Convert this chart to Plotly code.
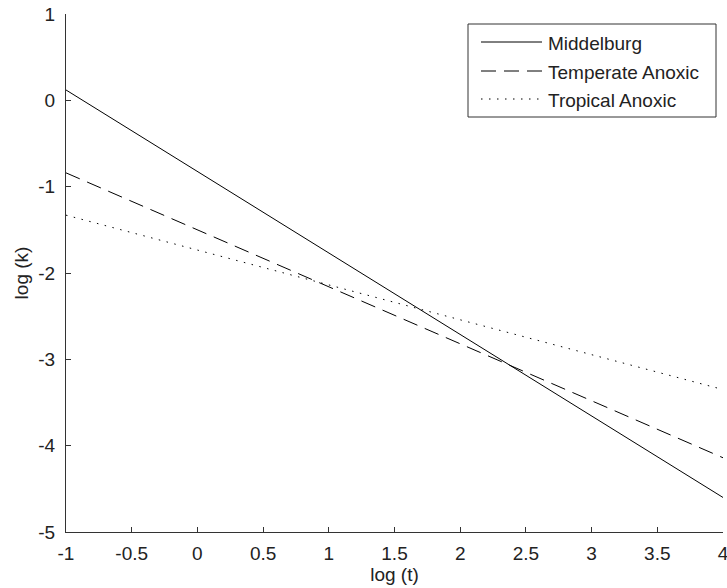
import plotly.graph_objects as go

# Data (line endpoints)
log_t = [-1, 4]
middelburg = [0.12, -4.60]
temperate_anoxic = [-0.84, -4.14]
tropical_anoxic = [-1.33, -3.35]

series_names = ["Middelburg", "Temperate Anoxic", "Tropical Anoxic"]
series_values = [middelburg, temperate_anoxic, tropical_anoxic]

x_ticks = [-1, -0.5, 0, 0.5, 1, 1.5, 2, 2.5, 3, 3.5, 4]
x_tick_labels = ["-1", "-0.5", "0", "0.5", "1", "1.5", "2", "2.5", "3", "3.5", "4"]
y_ticks = [-5, -4, -3, -2, -1, 0, 1]
y_tick_labels = ["-5", "-4", "-3", "-2", "-1", "0", "1"]

# Styles
dashes = ["solid", "15px,8px", "1.5px,6.5px"]
W, H = 727, 588
ML, MR, MT, MB = 66, 4, 14, 56
PW, PH = W - ML - MR, H - MT - MB
FONT = "Liberation Sans, Arial, sans-serif"
FS = 19
INK = "#222222"


def px(x):
    return (x - ML) / PW


def py(y):
    return (H - MB - y) / PH


fig = go.Figure()
for name, vals, d in zip(series_names, series_values, dashes):
    fig.add_trace(go.Scatter(
        x=log_t, y=vals, mode="lines", name=name, showlegend=False,
        line=dict(color="black", width=1, dash=d),
    ))

font = dict(family=FONT, size=FS, color=INK)

# Custom legend box (MATLAB-style, long sample lines)
shapes = [dict(type="rect", xref="paper", yref="paper",
               x0=px(468), x1=px(716), y0=py(117), y1=py(24),
               line=dict(color="#333", width=1), fillcolor="white", layer="above")]
annotations = []
row_y = [42, 71, 99]
for name, d, ry in zip(series_names, dashes, row_y):
    shapes.append(dict(type="line", xref="paper", yref="paper",
                       x0=px(481), x1=px(542), y0=py(ry), y1=py(ry),
                       line=dict(color="black", width=1, dash=d), layer="above"))
    annotations.append(dict(xref="paper", yref="paper", x=px(546), y=py(ry + 1),
                            xanchor="left", yanchor="middle", text=name,
                            showarrow=False, font=dict(family=FONT, size=FS, color=INK)))

fig.update_layout(
    width=W, height=H,
    margin=dict(l=ML, r=MR, t=MT, b=MB, autoexpand=False),
    paper_bgcolor="white", plot_bgcolor="white",
    font=font,
    showlegend=False,
    shapes=shapes,
    annotations=annotations,
    xaxis=dict(
        range=[-1, 4], tickvals=x_ticks, ticktext=x_tick_labels,
        showline=True, linecolor="#333", linewidth=1, mirror=False,
        ticks="inside", ticklen=5, tickcolor="#333",
        showgrid=False, zeroline=False, ticklabelstandoff=4,
        ticklabeloverflow="allow", automargin=False,
        tickfont=font,
        title=dict(text="log (t)", standoff=2, font=font),
    ),
    yaxis=dict(
        range=[-5, 1], tickvals=y_ticks, ticktext=y_tick_labels,
        showline=True, linecolor="#333", linewidth=1, mirror=False,
        ticks="inside", ticklen=5, tickcolor="#333",
        showgrid=False, zeroline=False, ticklabelstandoff=6,
        ticklabeloverflow="allow", automargin=False,
        tickfont=font,
        title=dict(text="log (k)", standoff=4, font=font),
    ),
)

fig.write_html("out.html")
